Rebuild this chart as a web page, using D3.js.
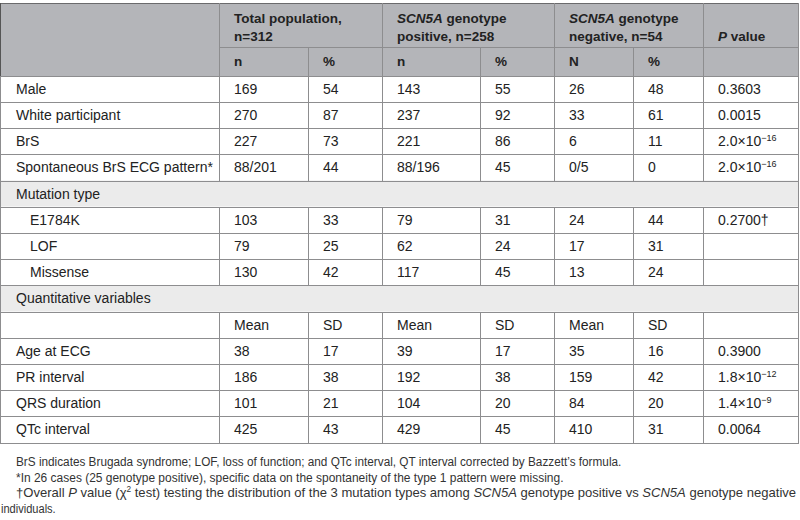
<!DOCTYPE html>
<html><head><meta charset="utf-8">
<script src="https://cdn.jsdelivr.net/npm/d3@7"></script>
<style>
html,body{margin:0;padding:0;background:#fff;}
svg{display:block;font-family:"Liberation Sans",Arial,sans-serif;}
</style></head>
<body>
<svg id="t" width="800" height="520"></svg>
<script>
// ---------- data ----------
const groupHeaders = [
  [{t:"Total population,"},{t:"n=312"}],
  [{t:"SCN5A",i:true,s:" genotype"},{t:"positive, n=258"}],
  [{t:"SCN5A",i:true,s:" genotype"},{t:"negative, n=54"}]
];
const subHeaders = ["n","%","n","%","N","%"];
const binaryLabels = ["Male","White participant","BrS","Spontaneous BrS ECG pattern*"];
const binaryTotalN = ["169","270","227","88/201"];
const binaryTotalPct = ["54","87","73","44"];
const binaryPosN = ["143","237","221","88/196"];
const binaryPosPct = ["55","92","86","45"];
const binaryNegN = ["26","33","6","0/5"];
const binaryNegPct = ["48","61","11","0"];
const binaryP = ["0.3603","0.0015","2.0×10^−16","2.0×10^−16"];

const mutationLabels = ["E1784K","LOF","Missense"];
const mutTotalN = ["103","79","130"];
const mutTotalPct = ["33","25","42"];
const mutPosN = ["79","62","117"];
const mutPosPct = ["31","24","45"];
const mutNegN = ["24","17","13"];
const mutNegPct = ["44","31","24"];
const mutP = ["0.2700†","",""];

const quantSubHeaders = ["Mean","SD","Mean","SD","Mean","SD"];
const quantLabels = ["Age at ECG","PR interval","QRS duration","QTc interval"];
const quantTotalMean = ["38","186","101","425"];
const quantTotalSD = ["17","38","21","43"];
const quantPosMean = ["39","192","104","429"];
const quantPosSD = ["17","38","20","45"];
const quantNegMean = ["35","159","84","410"];
const quantNegSD = ["16","42","20","31"];
const quantP = ["0.3900","1.8×10^−12","1.4×10^−9","0.0064"];

const sectionTitles = ["Mutation type","Quantitative variables"];
const footnotes = [
  [{t:"BrS indicates Brugada syndrome; LOF, loss of function; and QTc interval, QT interval corrected by Bazzett’s formula."}],
  [{t:"*In 26 cases (25 genotype positive), specific data on the spontaneity of the type 1 pattern were missing."}],
  [{t:"†Overall "},{t:"P",i:true},{t:" value (χ"},{t:"2",sup:true},{t:" test) testing the distribution of the 3 mutation types among "},{t:"SCN5A",i:true},{t:" genotype positive vs "},{t:"SCN5A",i:true},{t:" genotype negative"}],
  [{t:"individuals."}]
];

// ---------- layout ----------
const svg = d3.select("#t");
const colEdges = [0,219,308,382,480,554,633,703,799];
const x = d3.scaleOrdinal().domain(d3.range(8)).range(colEdges.slice(0,8));
const rowHeights = [44,29,26,26,26,26.5,26,26,26.5,26,26.5,26,26,26.5,26,26.5];
const rowTops = [3];
rowHeights.forEach((h,i)=>rowTops.push(rowTops[i]+h));
const y = i => rowTops[i];
const tableRight = colEdges[8];
const headBg = "#b4b5b9", secBg = "#ebebeb", lineC = "#8d8d8f", txt = "#222";
const pad = 15;

// build row specs
const rows = [];
rows.push({type:"h1"});
rows.push({type:"h2", cells:subHeaders});
binaryLabels.forEach((l,i)=>rows.push({type:"data",label:l,cells:[binaryTotalN[i],binaryTotalPct[i],binaryPosN[i],binaryPosPct[i],binaryNegN[i],binaryNegPct[i],binaryP[i]]}));
rows.push({type:"sec",label:sectionTitles[0]});
mutationLabels.forEach((l,i)=>rows.push({type:"data",indent:true,label:l,cells:[mutTotalN[i],mutTotalPct[i],mutPosN[i],mutPosPct[i],mutNegN[i],mutNegPct[i],mutP[i]]}));
rows.push({type:"sec",label:sectionTitles[1]});
rows.push({type:"data",label:"",cells:quantSubHeaders.concat([""])});
quantLabels.forEach((l,i)=>rows.push({type:"data",label:l,cells:[quantTotalMean[i],quantTotalSD[i],quantPosMean[i],quantPosSD[i],quantNegMean[i],quantNegSD[i],quantP[i]]}));

// backgrounds
svg.append("rect").attr("x",0).attr("y",y(0)).attr("width",tableRight).attr("height",y(2)-y(0)).attr("fill",headBg);
rows.forEach((r,i)=>{
  if(r.type==="sec") svg.append("rect").attr("x",0).attr("y",y(i)).attr("width",tableRight).attr("height",y(i+1)-y(i)).attr("fill",secBg);
});

const g = svg.append("g").attr("fill",txt).attr("font-size",14);

function writeValue(sel, v){
  if(v.includes("^")){
    const [base,exp] = v.split("^");
    sel.append("tspan").text(base);
    sel.append("tspan").attr("font-size",9).attr("dy",-5).text(exp);
  } else sel.text(v);
}

// header row 1
groupHeaders.forEach((gh,k)=>{
  const cx = x(1+2*k)+pad;
  gh.forEach((line,j)=>{
    const te = g.append("text").attr("x",cx).attr("y",y(0)+20+j*18).attr("font-weight","bold").attr("font-size",13.5);
    te.append("tspan").attr("font-style",line.i?"italic":null).text(line.t);
    if(line.s) te.append("tspan").text(line.s);
  });
});
{
  const te = g.append("text").attr("x",x(7)+pad).attr("y",y(0)+37.5).attr("font-weight","bold").attr("font-size",13.5);
  te.append("tspan").attr("font-style","italic").text("P");
  te.append("tspan").text(" value");
}
// header row 2
subHeaders.forEach((s,k)=>{
  g.append("text").attr("x",x(1+k)+pad).attr("y",(y(1)+y(2))/2+4.5).attr("font-weight","bold").attr("font-size",13.5).text(s);
});

// body
rows.forEach((r,i)=>{
  const cy = (y(i)+y(i+1))/2+5;
  if(r.type==="sec"){
    g.append("text").attr("x",16).attr("y",cy).text(r.label);
  } else if(r.type==="data"){
    g.append("text").attr("x",r.indent?30:16).attr("y",cy).text(r.label);
    r.cells.forEach((c,k)=>{
      const te = g.append("text").attr("x",x(1+k)+pad).attr("y",cy);
      writeValue(te,c);
    });
  }
});

// grid lines
const lines = svg.append("g").attr("stroke",lineC).attr("stroke-width",1).attr("shape-rendering","crispEdges");
rows.forEach((r,i)=>{
  if(i===0){
    lines.append("line").attr("x1",colEdges[1]).attr("x2",tableRight).attr("y1",y(1)+0.5).attr("y2",y(1)+0.5);
  } else {
    lines.append("line").attr("x1",0).attr("x2",tableRight).attr("y1",y(i+1)+0.5).attr("y2",y(i+1)+0.5);
  }
});
lines.append("line").attr("x1",0).attr("x2",tableRight).attr("y1",y(0)+0.5).attr("y2",y(0)+0.5).attr("stroke","#6a6a6c").attr("stroke-width",1.5);
lines.append("line").attr("x1",0).attr("x2",tableRight).attr("y1",y(2)+0.5).attr("y2",y(2)+0.5);
rows.forEach((r,i)=>{
  if(r.type==="sec") return;
  const edges = r.type==="h1" ? [0,1,3,5,7,8] : [0,1,2,3,4,5,6,7,8];
  edges.forEach(e=>{
    const xx = e===8? tableRight-0.5 : colEdges[e]+0.5;
    lines.append("line").attr("x1",xx).attr("x2",xx).attr("y1",y(i)).attr("y2",y(i+1)+1);
  });
});
rows.forEach((r,i)=>{
  if(r.type!=="sec") return;
  [0.5,tableRight-0.5].forEach(xx=>lines.append("line").attr("x1",xx).attr("x2",xx).attr("y1",y(i)).attr("y2",y(i+1)+1));
});
lines.append("line").attr("x1",0.5).attr("x2",0.5).attr("y1",y(0)).attr("y2",y(2)).attr("stroke","#555");

// footnotes
const fnBase = [466,481.5,497,512.5];
const fnX = [16,16,16,1];
const fnW = [606,548,781,null];
const fg = svg.append("g").attr("fill","#333").attr("font-size",13.5);
footnotes.forEach((parts,i)=>{
  const te = fg.append("text").attr("x",0).attr("y",0);
  parts.forEach(p=>{
    const ts = te.append("tspan").text(p.t);
    if(p.i) ts.attr("font-style","italic");
    if(p.sup){ ts.attr("font-size",8.5).attr("dy",-5); }
  });
  parts.forEach((p,k)=>{ if(p.sup){ const nxt = te.selectAll("tspan").nodes()[k+1]; if(nxt) d3.select(nxt).attr("dy",5);} });
  const w = te.node().getComputedTextLength();
  const target = fnW[i] || w*0.82;
  te.attr("transform",`translate(${fnX[i]},${fnBase[i]}) scale(${target/w},1)`);
});
</script>
</body></html>
